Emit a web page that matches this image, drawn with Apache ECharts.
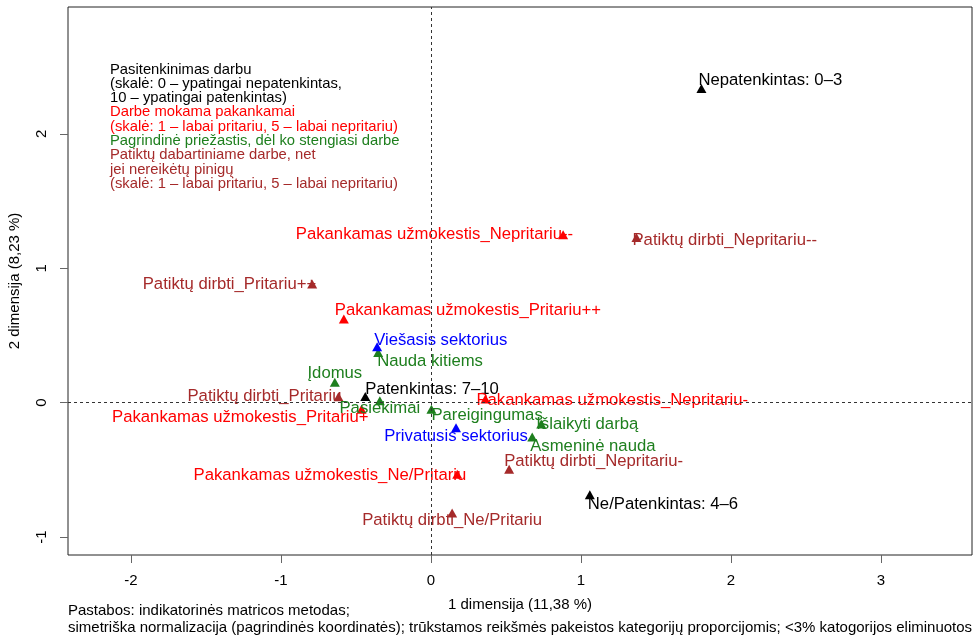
<!DOCTYPE html>
<html>
<head>
<meta charset="utf-8">
<title>Pasitenkinimas darbu</title>
<script src="https://cdn.jsdelivr.net/npm/echarts@6/dist/echarts.min.js"></script>
<style>
  html, body { margin: 0; padding: 0; background: #fff; }
  #caChart { width: 975px; height: 636px; }
</style>
</head>
<body>
<div id="caChart"></div>
<script>
// Pasitenkinimas darbu (juoda)
const satisfactionLabels = ['Nepatenkintas: 0–3', 'Patenkintas: 7–10', 'Ne/Patenkintas: 4–6']
const satisfactionDim1 = [1.803, -0.438, 1.059]
const satisfactionDim2 = [2.338, 0.046, -0.685]

// Darbe mokama pakankamai (raudona)
const payLabels = [
  'Pakankamas užmokestis_Nepritariu--',
  'Pakankamas užmokestis_Pritariu++',
  'Pakankamas užmokestis_Pritariu+',
  'Pakankamas užmokestis_Nepritariu-',
  'Pakankamas užmokestis_Ne/Pritariu'
]
const payDim1 = [0.881, -0.581, -0.463, 0.363, 0.175]
const payDim2 = [1.250, 0.623, -0.049, 0.026, -0.534]

// Patiktų dabartiniame darbe, net jei nereikėtų pinigų (ruda)
const likeLabels = [
  'Patiktų dirbti_Nepritariu--',
  'Patiktų dirbti_Pritariu++',
  'Patiktų dirbti_Pritariu',
  'Patiktų dirbti_Nepritariu-',
  'Patiktų dirbti_Ne/Pritariu'
]
const likeDim1 = [1.370, -0.792, -0.617, 0.521, 0.141]
const likeDim2 = [1.228, 0.882, 0.043, -0.496, -0.822]

// Pagrindinė priežastis (žalia)
const reasonLabels = ['Nauda kitiems', 'Įdomus', 'Pasiekimai', 'Pareigingumas', 'Išlaikyti darbą', 'Asmeninė nauda']
const reasonDim1 = [-0.352, -0.641, -0.341, 0.003, 0.735, 0.675]
const reasonDim2 = [0.372, 0.151, 0.013, -0.049, -0.160, -0.255]

// Sektorius (mėlyna)
const sectorLabels = ['Viešasis sektorius', 'Privatusis sektorius']
const sectorDim1 = [-0.359, 0.167]
const sectorDim2 = [0.416, -0.187]

const xTicks = [-2, -1, 0, 1, 2, 3]
const yTicks = [-1, 0, 1, 2]

// kur dėti užrašą: lygiuotė, poslinkis x, poslinkis y (px)
const labelPlace = {
  'Nepatenkintas: 0–3': ['left', -3, -8],
  'Patenkintas: 7–10': ['left', 0, -7],
  'Ne/Patenkintas: 4–6': ['left', -2, 10],
  'Pakankamas užmokestis_Nepritariu--': ['right', 10, 0],
  'Pakankamas užmokestis_Pritariu++': ['left', -9, -8],
  'Pakankamas užmokestis_Pritariu+': ['right', 7, 8],
  'Pakankamas užmokestis_Nepritariu-': ['left', -9, 1],
  'Pakankamas užmokestis_Ne/Pritariu': ['right', 9, 1],
  'Patiktų dirbti_Nepritariu--': ['left', -4, 3],
  'Patiktų dirbti_Pritariu++': ['right', 4, 0],
  'Patiktų dirbti_Pritariu': ['right', 3, 0],
  'Patiktų dirbti_Nepritariu-': ['left', -5, -8],
  'Patiktų dirbti_Ne/Pritariu': ['center', 0, 7],
  'Nauda kitiems': ['left', -1, 9],
  'Įdomus': ['center', 0, -9],
  'Pasiekimai': ['center', 0, 8],
  'Pareigingumas': ['left', 0, 6],
  'Išlaikyti darbą': ['left', -5, 0],
  'Asmeninė nauda': ['left', -2, 10],
  'Viešasis sektorius': ['left', -3, -6],
  'Privatusis sektorius': ['center', 0, 9]
}

const fontFamily = "'Liberation Sans', Arial, Helvetica, sans-serif"

function makeSeries (name, labels, dim1, dim2, color) {
  return {
    name: name,
    type: 'scatter',
    symbol: 'triangle',
    symbolSize: [10, 9],
    itemStyle: { color: color, opacity: 1 },
    label: {
      show: true,
      position: 'inside',
      formatter: '{b}',
      color: color,
      fontSize: 16.7,
      fontFamily: fontFamily,
      textBorderWidth: 0
    },
    emphasis: { disabled: true },
    data: labels.map((lab, i) => {
      const p = labelPlace[lab]
      return {
        name: lab,
        value: [dim1[i], dim2[i]],
        label: { align: p[0], verticalAlign: 'middle', offset: [p[1], p[2]] }
      }
    })
  }
}

const series = [
  makeSeries('Pasitenkinimas darbu', satisfactionLabels, satisfactionDim1, satisfactionDim2, '#000000'),
  makeSeries('Darbe mokama pakankamai', payLabels, payDim1, payDim2, '#ff0000'),
  makeSeries('Patiktų dabartiniame darbe', likeLabels, likeDim1, likeDim2, '#a52a2a'),
  makeSeries('Pagrindinė priežastis', reasonLabels, reasonDim1, reasonDim2, '#1e7f1e'),
  makeSeries('Sektorius', sectorLabels, sectorDim1, sectorDim2, '#0000ff')
]

// nulinės linijos
series[0].markLine = {
  silent: true,
  symbol: 'none',
  label: { show: false },
  lineStyle: { color: '#333', type: [3, 3], width: 1 },
  data: [{ xAxis: 0 }, { yAxis: 0 }]
}

const legendLines = [
  ['k', 'Pasitenkinimas darbu'],
  ['k', '(skalė: 0 – ypatingai nepatenkintas,'],
  ['k', '10 – ypatingai patenkintas)'],
  ['r', 'Darbe mokama pakankamai'],
  ['r', '(skalė: 1 – labai pritariu, 5 – labai nepritariu)'],
  ['g', 'Pagrindinė priežastis, dėl ko stengiasi darbe'],
  ['b', 'Patiktų dabartiniame darbe, net'],
  ['b', 'jei nereikėtų pinigų'],
  ['b', '(skalė: 1 – labai pritariu, 5 – labai nepritariu)']
]

function richStyle (color) {
  return { fill: color, fontSize: 14.8, fontFamily: fontFamily, lineHeight: 14.3 }
}

const option = {
  animation: false,
  backgroundColor: '#fff',
  grid: {
    left: 68,
    right: 3,
    top: 7,
    bottom: 81,
    outerBoundsMode: 'none',
    containLabel: false,
    show: true,
    borderColor: '#222',
    borderWidth: 1
  },
  xAxis: {
    type: 'value',
    min: -2.42,
    max: 3.607,
    name: '1 dimensija (11,38 %)',
    nameLocation: 'middle',
    nameGap: 42,
    nameTextStyle: { color: '#000', fontSize: 15, fontFamily: fontFamily },
    axisLine: { show: false, onZero: false },
    splitLine: { show: false },
    axisTick: { show: true, length: 8, customValues: xTicks, lineStyle: { color: '#666' } },
    axisLabel: { customValues: xTicks, color: '#000', fontSize: 15, fontFamily: fontFamily, margin: 18 }
  },
  yAxis: {
    type: 'value',
    min: -1.134,
    max: 2.944,
    name: '2 dimensija (8,23 %)',
    nameLocation: 'middle',
    nameRotate: 90,
    nameGap: 46,
    nameTextStyle: { color: '#000', fontSize: 15, fontFamily: fontFamily },
    axisLine: { show: false, onZero: false },
    splitLine: { show: false },
    axisTick: { show: true, length: 8, customValues: yTicks, lineStyle: { color: '#666' } },
    axisLabel: { customValues: yTicks, rotate: 90, color: '#000', fontSize: 15, fontFamily: fontFamily, margin: 19 }
  },
  graphic: [
    {
      type: 'text',
      left: 110,
      top: 62,
      silent: true,
      style: {
        text: legendLines.map(l => '{' + l[0] + '|' + l[1] + '}').join('\n'),
        rich: {
          k: richStyle('#000'),
          r: richStyle('#ff0000'),
          g: richStyle('#1e7f1e'),
          b: richStyle('#a52a2a')
        }
      }
    },
    {
      type: 'text',
      left: 68,
      top: 602,
      silent: true,
      style: {
        text: 'Pastabos: indikatorinės matricos metodas;\nsimetriška normalizacija (pagrindinės koordinatės); trūkstamos reikšmės pakeistos kategorijų proporcijomis; <3% katogorijos eliminuotos',
        fill: '#000',
        fontSize: 15,
        fontFamily: fontFamily,
        lineHeight: 17
      }
    }
  ],
  series: series
}

const dom = document.getElementById('caChart')
const myChart = echarts.init(dom)
myChart.setOption(option, true)
window.addEventListener('resize', () => {
  myChart.resize()
})
</script>
</body>
</html>
